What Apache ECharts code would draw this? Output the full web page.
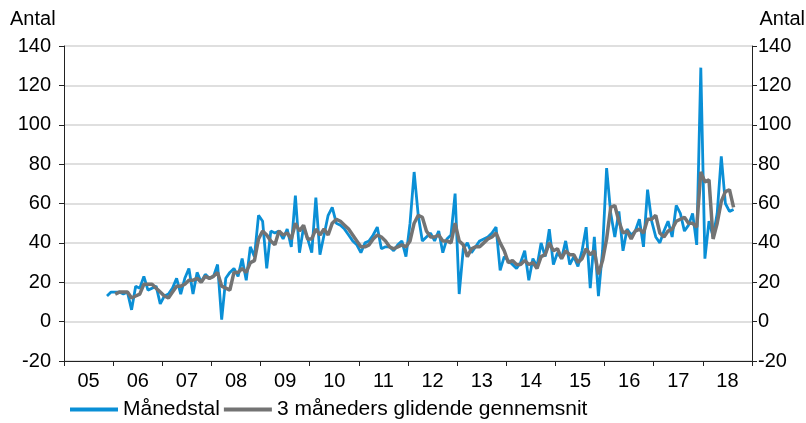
<!DOCTYPE html>
<html>
<head>
<meta charset="utf-8">
<script src="https://cdn.jsdelivr.net/npm/echarts@6/dist/echarts.min.js"></script>
<style>
  html, body { margin: 0; padding: 0; background: #fff; }
  #chart { width: 806px; height: 423px; }
</style>
</head>
<body>
<div id="chart"></div>
<script>
// år på x-aksen (jan 2005 - dec 2018, en kategori pr. måned)
const years = ['05', '06', '07', '08', '09', '10', '11', '12', '13', '14', '15', '16', '17', '18'];

// Månedstal, fra nov 2005
const monthly = [
  13, 15,
  15, 15, 14, 15, 6, 18, 17, 23, 16, 17, 18, 9,
  13, 14, 17, 22, 14, 22, 27, 14, 25, 20, 24, 22,
  23, 29, 1, 22, 25, 27, 23, 32, 21, 38, 33, 54,
  51, 27, 46, 45, 46, 42, 47, 38, 64, 35, 48, 42,
  35, 63, 34, 44, 54, 58, 50, 49, 47, 44, 41, 39,
  35, 40, 41, 44, 48, 37, 38, 38, 36, 39, 41, 33,
  50, 76, 54, 41, 43, 45, 41, 46, 35, 42, 44, 65,
  14, 37, 40, 35, 38, 41, 42, 43, 45, 48, 26, 33,
  31, 29, 27, 30, 36, 21, 32, 28, 40, 33, 47, 29,
  35, 32, 41, 29, 33, 28, 36, 48, 17, 43, 13, 36,
  78, 55, 43, 56, 36, 47, 44, 46, 52, 38, 67, 51,
  43, 40, 46, 51, 43, 59, 55, 46, 49, 55, 39, 129,
  32, 51, 43, 55, 84, 60, 56, 57
];

// 3 måneders glidende gennemsnit, fra jan 2006
const avg3 = [
  14, 15, 15, 15, 12, 13, 14, 19, 19, 19, 17, 15,
  13, 12, 15, 18, 18, 19, 21, 21, 22, 20, 23, 22,
  23, 25, 18, 17, 16, 25, 25, 27, 25, 30, 31, 42,
  46, 44, 41, 39, 46, 44, 45, 42, 50, 46, 49, 42,
  42, 47, 44, 47, 44, 50, 52, 51, 49, 47, 44, 41,
  38, 38, 39, 42, 44, 43, 41, 38, 37, 38, 39, 38,
  41, 50, 54, 53, 46, 43, 43, 44, 41, 41, 40, 50,
  41, 39, 33, 37, 38, 38, 40, 42, 43, 45, 40, 36,
  30, 31, 29, 29, 31, 29, 30, 27, 33, 34, 40, 36,
  37, 32, 36, 34, 34, 30, 32, 37, 34, 36, 24, 31,
  42, 58, 59, 51, 45, 46, 42, 46, 47, 45, 52, 52,
  54, 45, 43, 46, 47, 51, 52, 53, 50, 50, 48, 76,
  71, 72, 42, 50, 61, 66, 67, 58
];

const months = [];
years.forEach(y => {
  for (let m = 1; m <= 12; m++) months.push('20' + y + '-' + (m < 10 ? '0' + m : m));
});

// fyld ud med null før/efter så serierne passer til kategorierne
const pad = (arr, start) => months.map((_, i) => {
  const k = i - start;
  return k >= 0 && k < arr.length ? arr[k] : null;
});

const FONT = 'Liberation Sans, Arial, sans-serif';
const txt = { color: '#000', fontFamily: FONT, fontSize: 20 };

const yAxisBase = {
  type: 'value',
  min: -20,
  max: 140,
  interval: 20,
  axisLine: { show: true, lineStyle: { color: '#222', width: 1 } },
  axisTick: { show: true, inside: false, length: 5, lineStyle: { color: '#222' } },
  axisLabel: Object.assign({ margin: 13 }, txt),
};

let myChart = echarts.init(document.getElementById('chart'), null, { renderer: 'canvas' });
myChart.setOption({
  animation: false,
  backgroundColor: '#fff',
  grid: { left: 64, right: 54, top: 46, bottom: 62 },
  legend: {
    left: 70,
    top: 399,
    padding: 0,
    itemWidth: 48,
    itemHeight: 4,
    itemGap: 4,
    icon: 'rect',
    textStyle: Object.assign({}, txt, { fontSize: 21 }),
    data: ['Månedstal', '3 måneders glidende gennemsnit'],
  },
  graphic: [
    { type: 'text', left: 10, top: 9, style: { text: 'Antal', fill: '#000', font: '20px ' + FONT } },
    { type: 'text', right: 1, top: 9, style: { text: 'Antal', fill: '#000', font: '20px ' + FONT } },
  ],
  xAxis: {
    type: 'category',
    data: months,
    boundaryGap: true,
    axisLine: { show: true, onZero: false, lineStyle: { color: '#222', width: 1 } },
    axisTick: {
      show: true,
      length: 5,
      interval: (i) => i % 12 === 0,
      lineStyle: { color: '#222' },
    },
    axisLabel: Object.assign({
      margin: 10,
      interval: (i) => i % 12 === 6,
      padding: [0, 4, 0, 0],
      formatter: (v) => v.slice(2, 4),
    }, txt),
    splitLine: { show: false },
  },
  yAxis: [
    Object.assign({}, yAxisBase, {
      position: 'left',
      splitLine: { show: true, lineStyle: { color: '#d4d4d4', width: 1.5 } },
    }),
    Object.assign({}, yAxisBase, {
      position: 'right',
      axisLabel: Object.assign({ margin: 6 }, txt),
      splitLine: { show: false },
    }),
  ],
  series: [
    {
      name: 'Månedstal',
      type: 'line',
      data: pad(monthly, 10),
      showSymbol: false,
      symbol: 'none',
      lineStyle: { color: '#0a8fd6', width: 2.8 },
      itemStyle: { color: '#0a8fd6' },
      z: 2,
    },
    {
      name: '3 måneders glidende gennemsnit',
      type: 'line',
      data: pad(avg3, 12),
      showSymbol: false,
      symbol: 'none',
      lineStyle: { color: '#737373', width: 3.5 },
      itemStyle: { color: '#737373' },
      z: 3,
    },
  ],
});
</script>
</body>
</html>
